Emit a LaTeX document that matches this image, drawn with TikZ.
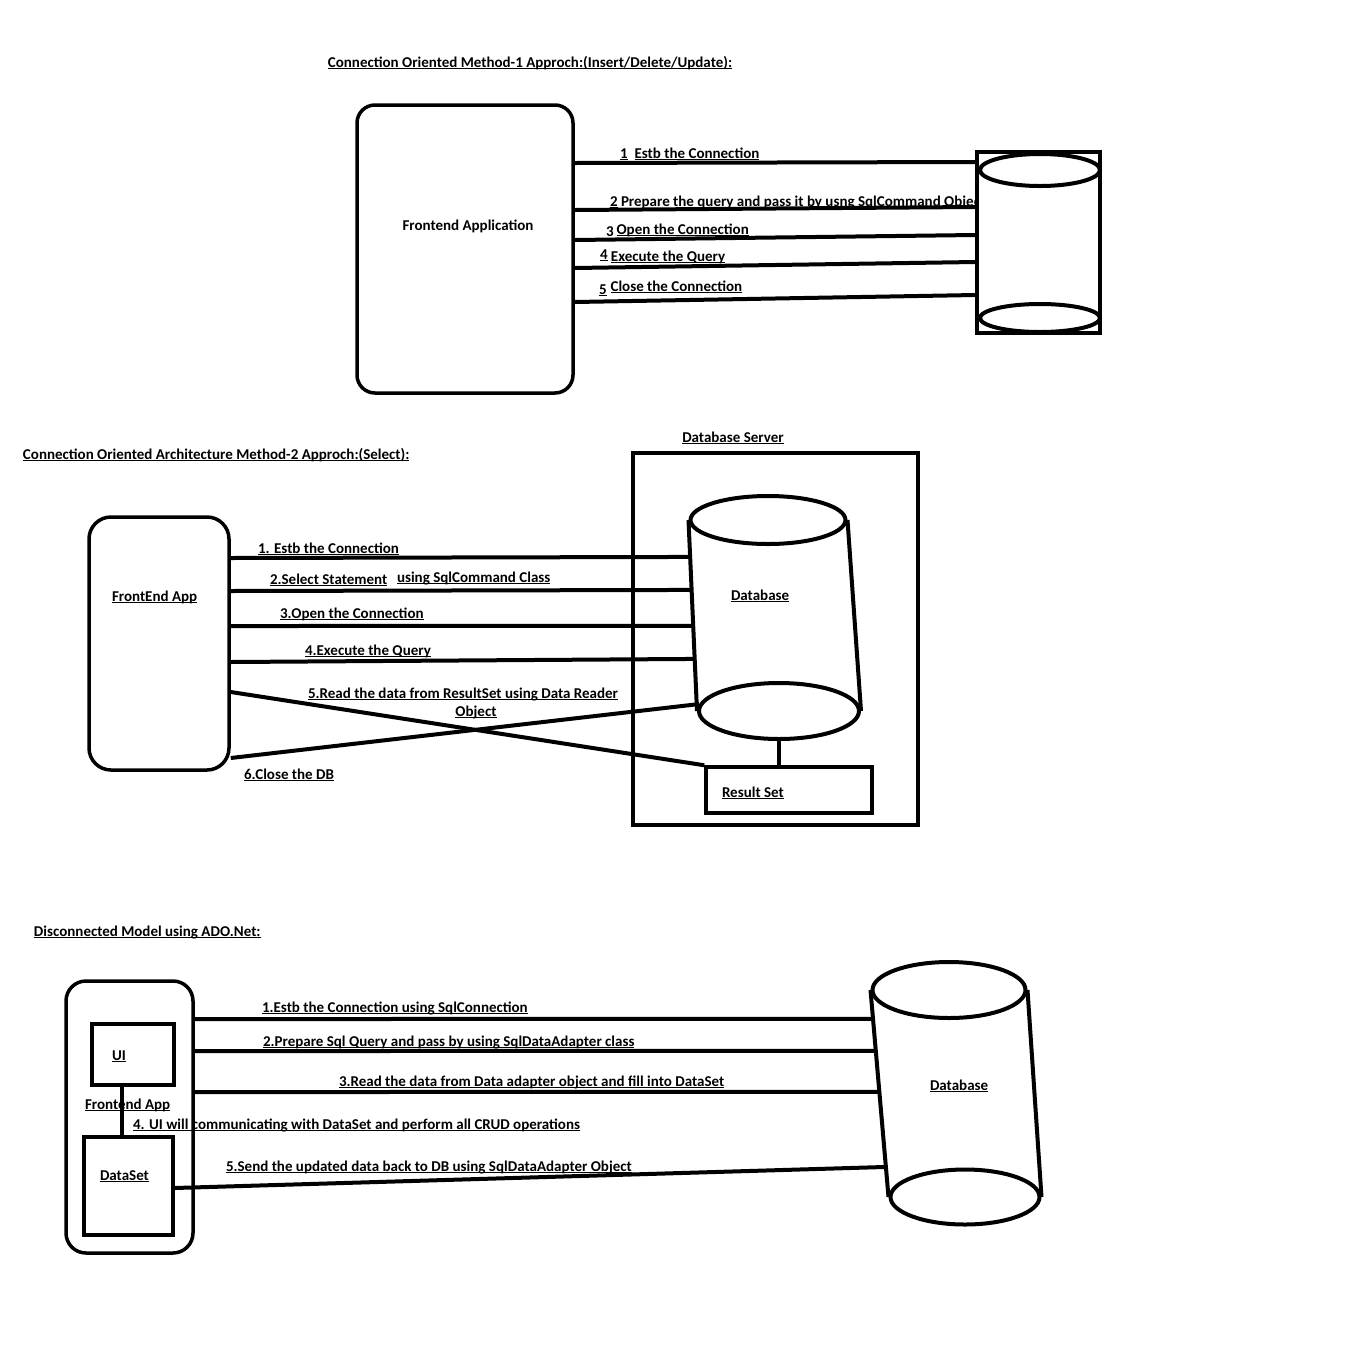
\documentclass[tikz,border=0pt]{standalone}
\usepackage{fontspec}
\setmainfont{Carlito}
\usetikzlibrary{positioning,shapes.geometric}
\newcommand{\undl}[1]{\setbox0\hbox{#1}\rlap{\rule[-1.8pt]{\wd0}{0.9pt}}\box0\relax}

\begin{document}
\begin{tikzpicture}[x=1pt, y=-1pt, line width=4pt,
                    lbl/.style={font=\fontsize{15}{18}\selectfont\bfseries, inner sep=0pt, anchor=base west},
                    appbox/.style={draw, rounded corners=18pt, line width=3.5pt, inner sep=0pt},
                    plainbox/.style={draw, line width=3.5pt, inner sep=0pt},
                    disk/.style={draw, ellipse, line width=4pt, inner sep=0pt}]
    \useasboundingbox (0,0) rectangle (1353,1350);

    % ---- method 1
    \node[lbl, anchor=base] (t1) at (530,67) {\undl{Connection Oriented Method-1 Approch:(Insert/Delete/Update):}};
    \node[appbox, minimum width=216pt, minimum height=288pt] (fa) at (465,249) {};
    \node[lbl, anchor=base] (falbl) at (468,230) {Frontend Application};
    \node[lbl] (m1a) at (618,158) {\undl{1}\hspace{7pt}\undl{Estb the Connection}};
    \node[lbl] (m1b) at (608,206) {\undl{2} Prepare the query and pass it by usng SqlCommand Object};
    \node[lbl] (m1c) at (604,234) {\raisebox{-2pt}{3}\hspace{3pt}\undl{Open the Connection}};
    \node[lbl] (m1d) at (598,261) {\raisebox{2pt}{\undl{4}} \undl{Execute the Query}};
    \node[lbl] (m1e) at (597,291) {\raisebox{-3pt}{\undl{5}}\hspace{4pt}\undl{Close the Connection}};
    \node[plainbox, fill=white, minimum width=123pt, minimum height=181pt] (dbbox) at (1038.5,242.5) {};
    \node[disk, minimum width=120pt, minimum height=32pt] (db1t) at (1040,170) {};
    \node[disk, minimum width=120pt, minimum height=28pt] (db1b) at (1040,318) {};
    % lines
    \draw (fa.east |- 0,163) -- (dbbox.west |- 0,162);
    \draw (fa.east |- 0,210) -- (dbbox.west |- 0,207);
    \draw (fa.east |- 0,240) -- (dbbox.west |- 0,235);
    \draw (fa.east |- 0,268) -- (dbbox.west |- 0,262);
    \draw (fa.east |- 0,302) -- (dbbox.west |- 0,295);

    % ---- method 2
    \node[lbl] (t2) at (21,459) {\undl{Connection Oriented Architecture Method-2 Approch:(Select):}};
    \node[plainbox, minimum width=285pt, minimum height=372pt] (srv) at (775.5,639) {};
    \node[lbl, anchor=base] (srvlbl) at (733,442) {\undl{Database Server}};
    \node[appbox, rounded corners=22pt, minimum width=140pt, minimum height=253pt] (fe) at (159,643.5) {};
    \node[lbl] (felbl) at (110,601) {\undl{FrontEnd App}};
    \node[disk, minimum width=155pt, minimum height=48pt] (dbt) at (768,520) {};
    \node[disk, minimum width=160pt, minimum height=56pt] (dbb) at (779,711) {};
    \draw (dbt.west) -- (dbb.west);
    \draw (dbt.east) -- (dbb.east);
    \node[lbl] (dblbl) at (729,600) {\undl{Database}};
    \node[plainbox, minimum width=166pt, minimum height=46pt] (rs) at (789,790) {};
    \node[lbl] (rslbl) at (720,797) {\undl{Result Set}};
    \node[lbl] (s1) at (256,553) {\undl{1. Estb the Connection}};
    \node[lbl] (s2) at (268,584) {\undl{2.Select Statement}};
    \node[lbl] (s2b) at (395,582) {\undl{using SqlCommand Class}};
    \node[lbl] (s3) at (278,618) {\undl{3.Open the Connection}};
    \node[lbl] (s4) at (303,655) {\undl{4.Execute the Query}};
    \node[lbl, anchor=base, align=center] (s5) at (463,716) {\undl{5.Read the data from ResultSet using Data Reader}\\\hspace{26pt}\undl{Object}};
    \node[lbl] (s6) at (242,779) {\undl{6.Close the DB}};
    % lines
    \draw (fe.east |- 0,558) -- (intersection of dbt.west--dbb.west and 0,557--1,557);
    \draw (fe.east |- 0,591) -- (intersection of dbt.west--dbb.west and 0,590--1,590);
    \draw (fe.east |- 0,626) -- (intersection of dbt.west--dbb.west and 0,626--1,626);
    \draw (fe.east |- 0,662) -- (intersection of dbt.west--dbb.west and 0,659--1,659);
    \draw (fe.east |- 0,692) -- (rs.north west);
    \draw (fe.east |- 0,758) -- (dbb.175);
    \draw[line width=3.5pt] (dbb.south) -- (dbb.south |- rs.north);

    % ---- disconnected
    \node[lbl] (t3) at (32,936) {\undl{Disconnected Model using ADO.Net:}};
    \node[appbox, rounded corners=20pt, minimum width=127pt, minimum height=272pt] (fo) at (129.5,1117) {};
    \node[plainbox, minimum width=82pt, minimum height=61pt] (ui) at (133,1054.5) {};
    \node[lbl] (uilbl) at (110,1060) {\undl{UI}};
    \node[plainbox, minimum width=89pt, minimum height=98pt] (ds) at (128.5,1186) {};
    \node[lbl] (dslbl) at (98,1180) {\undl{DataSet}};
    \node[lbl] (folbl) at (83,1109) {\undl{Frontend App}};
    \draw[line width=3.5pt] (122,0 |- ui.south) -- (122,0 |- ds.north);
    \node[disk, minimum width=153pt, minimum height=56pt] (db3t) at (949,990) {};
    \node[disk, minimum width=149pt, minimum height=55pt] (db3b) at (965,1197) {};
    \draw (db3t.west) -- (db3b.west);
    \draw (db3t.east) -- (db3b.east);
    \node[lbl] (db3lbl) at (928,1090) {\undl{Database}};
    \node[lbl] (d1) at (260,1012) {\undl{1.Estb the Connection using SqlConnection}};
    \node[lbl] (d2) at (261,1046) {\undl{2.Prepare Sql Query and pass by using SqlDataAdapter class}};
    \node[lbl] (d3) at (337,1086) {\undl{3.Read the data from Data adapter object and fill into DataSet}};
    \node[lbl] (d4) at (131,1129) {\undl{4. UI will communicating with DataSet and perform all CRUD operations}};
    \node[lbl] (d5) at (224,1171) {\undl{5.Send the updated data back to DB using SqlDataAdapter Object}};
    % lines
    \draw (fo.east |- 0,1019) -- (intersection of db3t.west--db3b.west and 0,1019--1,1019);
    \draw (fo.east |- 0,1051) -- (intersection of db3t.west--db3b.west and 0,1051--1,1051);
    \draw (fo.east |- 0,1092) -- (intersection of db3t.west--db3b.west and 0,1092--1,1092);
    \draw (ds.east |- 0,1188) -- (intersection of db3t.west--db3b.west and 0,1167--1,1167);
\end{tikzpicture}
\end{document}
